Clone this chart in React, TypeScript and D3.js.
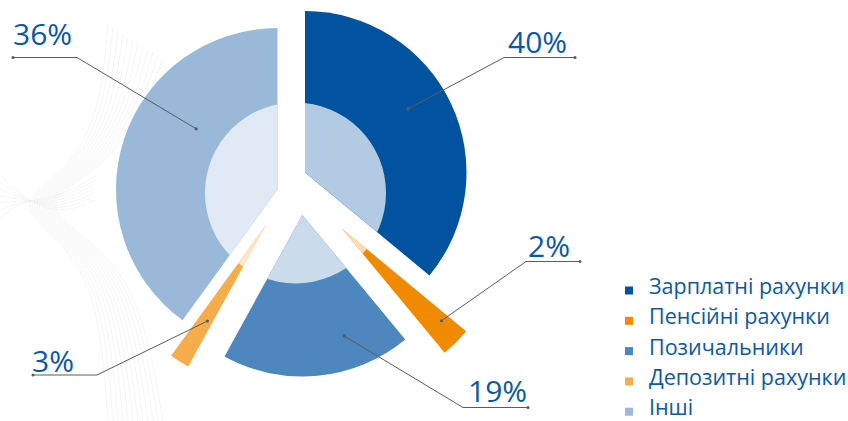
import React from 'react';
import * as d3 from 'd3';

// ---- data ----
const categories = ['Зарплатні рахунки', 'Пенсійні рахунки', 'Позичальники', 'Депозитні рахунки', 'Інші'];
// angular share of each slice as drawn in the reference
const sliceShares = [36, 3, 19, 2, 40];
// percentage labels as printed next to each slice
const labelValues = [40, 2, 19, 3, 36];
const colors = ['#02539f', '#f08a00', '#4e86be', '#f5ad4c', '#9ab9d9'];

// ---- layout ----
const W = 848;
const H = 421;
const center = { x: 295.5, y: 193 };
const outerR = 161.5;
const innerR = 90.5;
const sliceOffsets: [number, number][] = [[9.5, -20.5], [46.2, 35.3], [6.8, 22], [-29.5, 32], [-18, -3.5]];
const labelLayout = [
  { frac: 0.45, r: 121, elbow: [504, 57.5], end: [575, 57.5], text: [508, 53] },
  { frac: 0.3, r: 136, elbow: [526, 261.5], end: [580, 261.5], text: [528, 257] },
  { frac: 0.3, r: 128, elbow: [463, 407.5], end: [528, 407.5], text: [468, 402] },
  { frac: 0.36, r: 112.5, elbow: [97, 375], end: [33, 375], text: [32, 372] },
  { frac: 0.63, r: 101.5, elbow: [77, 57.5], end: [13, 57.5], text: [13, 45] },
];
const textColor = '#0b58a4';
const lineColor = '#5b5b5b';
const font = '"Open Sans", "Noto Sans", sans-serif';

export default function App() {
  const pie = d3.pie<number>().sort(null).value((d) => d).startAngle(0).endAngle(2 * Math.PI);
  const arcs = pie(sliceShares);
  const arc = d3.arc<d3.PieArcDatum<number>>().innerRadius(0).outerRadius(outerR);

  // decorative faint background wave lines
  const lineGen = d3.line<[number, number]>().curve(d3.curveBasis);
  const deco: string[] = [];
  for (let i = 0; i < 12; i++) {
    deco.push(
      lineGen([
        [108 + i * 5, 25 + i * 3],
        [100 + i * 4, 110],
        [70 + i * 3, 170],
        [10 + i * 2, 205],
        [70 + i * 3, 245],
        [100 + i * 4, 310],
        [108 + i * 5, 421],
      ]) as string
    );
  }
  for (let i = 0; i < 7; i++) {
    deco.push(
      lineGen([
        [0, 175 + i * 7],
        [25, 200],
        [60, 215 - i * 3],
        [95, 200 - i * 4],
      ]) as string
    );
  }

  return (
    <svg
      width={W}
      height={H}
      viewBox={`0 0 ${W} ${H}`}
      style={{ position: 'absolute', left: 0, top: 0, background: '#fff' }}
    >
      <defs>
        <clipPath id="innerClip">
          <circle cx={center.x} cy={center.y} r={innerR} />
        </clipPath>
      </defs>

      <g fill="none" stroke="#eeeef1" strokeWidth={0.6}>
        {deco.map((d, i) => (
          <path key={i} d={d} />
        ))}
      </g>

      {/* outer coloured wedges */}
      <g>
        {arcs.map((a, i) => (
          <path
            key={i}
            d={arc(a) as string}
            fill={colors[i]}
            transform={`translate(${center.x + sliceOffsets[i][0]},${center.y + sliceOffsets[i][1]})`}
          />
        ))}
      </g>
      {/* lighter inner part */}
      <g clipPath="url(#innerClip)">
        {arcs.map((a, i) => (
          <path
            key={i}
            d={arc(a) as string}
            fill={d3.interpolateRgb(colors[i], '#ffffff')(0.7)}
            transform={`translate(${center.x + sliceOffsets[i][0]},${center.y + sliceOffsets[i][1]})`}
          />
        ))}
      </g>

      {/* leaders and labels */}
      {arcs.map((a, i) => {
        const L = labelLayout[i];
        const ang = a.startAngle + (a.endAngle - a.startAngle) * L.frac;
        const p = d3.pointRadial(ang, L.r);
        const ax = center.x + sliceOffsets[i][0] + p[0];
        const ay = center.y + sliceOffsets[i][1] + p[1];
        const pts: [number, number][] = [[ax, ay], [L.elbow[0], L.elbow[1]], [L.end[0], L.end[1]]];
        return (
          <g key={i}>
            <path d={d3.line()(pts) as string} fill="none" stroke={lineColor} strokeWidth={1} />
            <circle cx={ax} cy={ay} r={1.6} fill={lineColor} />
            <circle cx={L.end[0]} cy={L.end[1]} r={1.5} fill={lineColor} />
            <text x={L.text[0]} y={L.text[1]} fill={textColor} fontFamily={font} fontSize={30}>
              {`${labelValues[i]}%`}
            </text>
          </g>
        );
      })}

      {/* legend */}
      <g>
        {categories.map((c, i) => {
          const y = 294 + i * 30.3;
          return (
            <g key={c}>
              <rect x={625} y={y - 7.5} width={8} height={8} fill={colors[i]} />
              <text x={649} y={y} fill={textColor} fontFamily={font} fontSize={21.5}>
                {c}
              </text>
            </g>
          );
        })}
      </g>
    </svg>
  );
}
